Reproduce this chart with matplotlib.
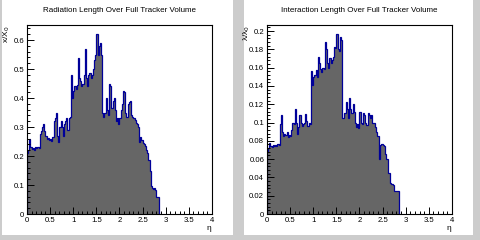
import numpy as np
import matplotlib
matplotlib.use('Agg')
import matplotlib.pyplot as plt
from matplotlib.patches import Rectangle
from matplotlib.ticker import MultipleLocator, FuncFormatter

plt.rcParams['font.family'] = ['Liberation Sans', 'DejaVu Sans']

# eta bins, width 0.025 from 0 to 2.85
bin_width = 0.025
n_bins = 114
eta_edges = np.round(np.arange(n_bins + 1) * bin_width, 4)

# radiation length x/X0 per eta bin
rad_length = [
    0.212, 0.222, 0.258, 0.23,
    0.225, 0.228, 0.222, 0.23,
    0.226, 0.232, 0.228, 0.275,
    0.285, 0.30, 0.31, 0.285,
    0.27, 0.258, 0.262, 0.255,
    0.26, 0.252, 0.265, 0.32,
    0.33, 0.35, 0.27, 0.25,
    0.30, 0.32, 0.30, 0.27,
    0.31, 0.32, 0.33, 0.29,
    0.33, 0.335, 0.48, 0.40,
    0.425, 0.44, 0.43, 0.445,
    0.537, 0.47, 0.46, 0.44,
    0.45, 0.48, 0.57, 0.47,
    0.44, 0.48, 0.485, 0.47,
    0.48, 0.50, 0.53, 0.55,
    0.62, 0.55, 0.58, 0.59,
    0.55, 0.35, 0.335, 0.35,
    0.40, 0.36, 0.34, 0.45,
    0.44, 0.365, 0.39, 0.40,
    0.36, 0.32, 0.33, 0.31,
    0.33, 0.36, 0.38, 0.425,
    0.42, 0.35, 0.335, 0.38,
    0.385, 0.39, 0.34, 0.335,
    0.33, 0.325, 0.315, 0.31,
    0.30, 0.25, 0.265, 0.255,
    0.245, 0.24, 0.235, 0.22,
    0.21, 0.185, 0.15, 0.095,
    0.09, 0.085, 0.088, 0.082,
    0.058, 0.058,
]

# interaction length lambda/lambda0 per eta bin
int_length = [
    0.069, 0.072, 0.078, 0.074,
    0.073, 0.075, 0.074, 0.075,
    0.074, 0.076, 0.075, 0.098,
    0.108, 0.09, 0.085, 0.088,
    0.086, 0.09, 0.084, 0.086,
    0.085, 0.092, 0.10, 0.098,
    0.115, 0.10, 0.088, 0.095,
    0.108, 0.10, 0.096, 0.098,
    0.10, 0.109, 0.102, 0.096,
    0.10, 0.098, 0.156, 0.141,
    0.15, 0.152, 0.157, 0.15,
    0.172, 0.165, 0.158, 0.155,
    0.16, 0.158, 0.188, 0.18,
    0.165, 0.16, 0.17, 0.165,
    0.168, 0.172, 0.183, 0.182,
    0.197, 0.18, 0.178, 0.193,
    0.19, 0.105, 0.105, 0.11,
    0.122, 0.115, 0.105, 0.127,
    0.115, 0.11, 0.12, 0.112,
    0.10, 0.095, 0.098, 0.094,
    0.112, 0.10, 0.098, 0.11,
    0.108, 0.10, 0.097, 0.11,
    0.108, 0.105, 0.108, 0.10,
    0.10, 0.095, 0.09, 0.085,
    0.085, 0.06, 0.075, 0.077,
    0.075, 0.074, 0.066, 0.06,
    0.06, 0.045, 0.034, 0.033,
    0.033, 0.032, 0.025, 0.025,
    0.025, 0.025,
]

titles = ['Radiation Length Over Full Tracker Volume',
          'Interaction Length Over Full Tracker Volume']
ylabels = ['x/X$_0$', '\u03bb/\u03bb$_0$']
ymax = [0.652, 0.2066]
ymajor = [0.1, 0.02]

fig = plt.figure(figsize=(4.8, 2.4), dpi=100)
fig.patch.set_facecolor('#cccccc')

# white pads like a divided ROOT canvas
for x0, w in [(0.005, 0.481), (0.508, 0.477)]:
    pad = Rectangle((x0, 0.021), w, 0.979, transform=fig.transFigure,
                    facecolor='white', edgecolor='none', zorder=-10)
    fig.add_artist(pad)

fmt = FuncFormatter(lambda v, p: '%g' % round(v, 4))

for i, vals in enumerate([rad_length, int_length]):
    left = 0.05625 + i * 0.5
    ax = fig.add_axes([left, 0.1083, 0.3854, 0.7875])
    ax.set_zorder(1)
    ax.set_facecolor('white')
    ax.stairs(vals, eta_edges, fill=True, facecolor='#666666', edgecolor='none')
    ax.stairs(vals, eta_edges, baseline=0, color='#000099', linewidth=0.9)
    ax.set_xlim(0, 4)
    ax.set_ylim(0, ymax[i])

    ax.xaxis.set_major_locator(MultipleLocator(0.5))
    ax.xaxis.set_minor_locator(MultipleLocator(0.1))
    ax.yaxis.set_major_locator(MultipleLocator(ymajor[i]))
    ax.yaxis.set_minor_locator(MultipleLocator(ymajor[i] / 5))
    ax.xaxis.set_major_formatter(fmt)
    ax.yaxis.set_major_formatter(fmt)
    ax.tick_params(which='both', direction='in', labelsize=5.6, width=0.7, pad=2)
    ax.tick_params(which='major', length=5)
    ax.tick_params(which='minor', length=2.5)
    for s in ax.spines.values():
        s.set_linewidth(0.8)

    fig.text(left + 0.3854 / 2, 0.955, titles[i], ha='center', va='center', fontsize=5.8)
    ax.text(0.984, -0.06, '\u03b7', transform=ax.transAxes, ha='center', va='top', fontsize=6)
    ax.text(-0.112, 1.0, ylabels[i], transform=ax.transAxes, rotation=90,
            ha='center', va='top', fontsize=6)

fig.savefig('out.png', dpi=100, facecolor=fig.get_facecolor())
